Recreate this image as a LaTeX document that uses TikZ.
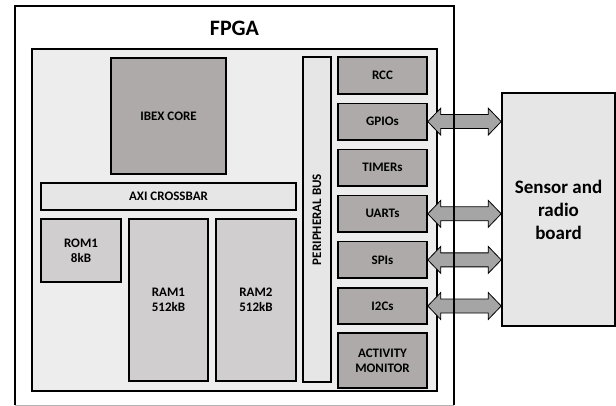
\documentclass[tikz,border=0pt]{standalone}
\usepackage{fontspec}
\setmainfont{Carlito}
\usepackage{tikz}
\usetikzlibrary{positioning,calc}
\usepackage{xcolor}
\definecolor{InnerGray}{RGB}{237,237,237}
\definecolor{LightGray}{RGB}{231,230,230}
\definecolor{MidGray}{RGB}{208,206,206}
\definecolor{DarkGray}{RGB}{174,170,170}
\definecolor{ArrowGray}{RGB}{165,165,165}

\begin{document}
\begin{tikzpicture}[x=1pt, y=-1pt,
    block/.style={rectangle, draw=black, line width=1.6pt, inner sep=0pt,
                  align=center, font=\fontsize{13}{15}\selectfont\bfseries},
    core/.style={block, fill=DarkGray},
    mem/.style={block, fill=MidGray},
    bus/.style={block, fill=LightGray},
    periph/.style={block, fill=DarkGray, minimum width=89pt, minimum height=36.5pt},
    linkarrow/.style={draw=black, line width=0.8pt, fill=ArrowGray, line join=miter}
]
    \useasboundingbox (0,0) rectangle (616,406);

    % FPGA frame
    \node[rectangle, fill=white, inner sep=0pt, minimum width=439pt, minimum height=399pt] (fpga) at (234.5,205.5) {};
    \node[font=\fontsize{22}{24}\selectfont\bfseries] (title) at (234.5,28) {FPGA};
    \node[rectangle, draw=black, line width=1.6pt, fill=InnerGray, minimum width=405pt, minimum height=342pt] (soc) at (234.5,220) {};

    \node[core, minimum width=115pt, minimum height=116pt] (ibex) at (168.5,116) {IBEX CORE};
    \node[bus, minimum width=255pt, minimum height=27pt] (axi) at (168.5,196.5) {AXI CROSSBAR};
    \node[mem, minimum width=80pt, minimum height=63pt] (rom) at (81,250.5) {ROM1\\8kB};
    \node[mem, minimum width=79pt, minimum height=162pt] (ram1) at (168.5,300) {RAM1\\512kB};
    \node[mem, minimum width=80pt, minimum height=162pt] (ram2) at (256,300) {RAM2\\512kB};

    \node[bus, minimum width=28pt, minimum height=325pt] (pbus) at (317,219.5) {};
    \node[font=\fontsize{13}{15}\selectfont\bfseries, rotate=90] (pbuslabel) at (pbus) {PERIPHERAL BUS};

    \node[periph] (rcc) at (382.5,75.5) {RCC};
    \node[periph, below=8pt of rcc] (gpio) {GPIOs};
    \node[periph, below=8pt of gpio] (timer) {TIMERs};
    \node[periph, below=8pt of timer] (uart) {UARTs};
    \node[periph, below=8pt of uart] (spi) {SPIs};
    \node[periph, below=8pt of spi] (i2c) {I2Cs};
    \node[periph, below=7pt of i2c, minimum height=55pt] (actmon) {ACTIVITY\\MONITOR};

    \node[bus, minimum width=113pt, minimum height=233pt, font=\fontsize{19}{23}\selectfont\bfseries] (sensor) at (558.5,209.5) {Sensor and\\radio\\board};

    \foreach \p in {gpio, uart, spi, i2c} {
        \draw[linkarrow] (\p.east) -- ++(13,-13.5) -- ++(0,6.5)
            -- ($(sensor.west |- \p.east)+(-13,-7)$) -- ++(0,-6.5)
            -- (sensor.west |- \p.east) -- ++(-13,13.5) -- ++(0,-6.5)
            -- ($(\p.east)+(13,7)$) -- ++(0,6.5) -- cycle;
    }

    % frame edges on top of the links
    \draw[line width=1.6pt] (fpga.south west) -- (fpga.north west) -- (fpga.north east) -- (fpga.south east);
    \draw[gray!60, line width=0.8pt] (fpga.south west) -- (fpga.south east);
\end{tikzpicture}
\end{document}
